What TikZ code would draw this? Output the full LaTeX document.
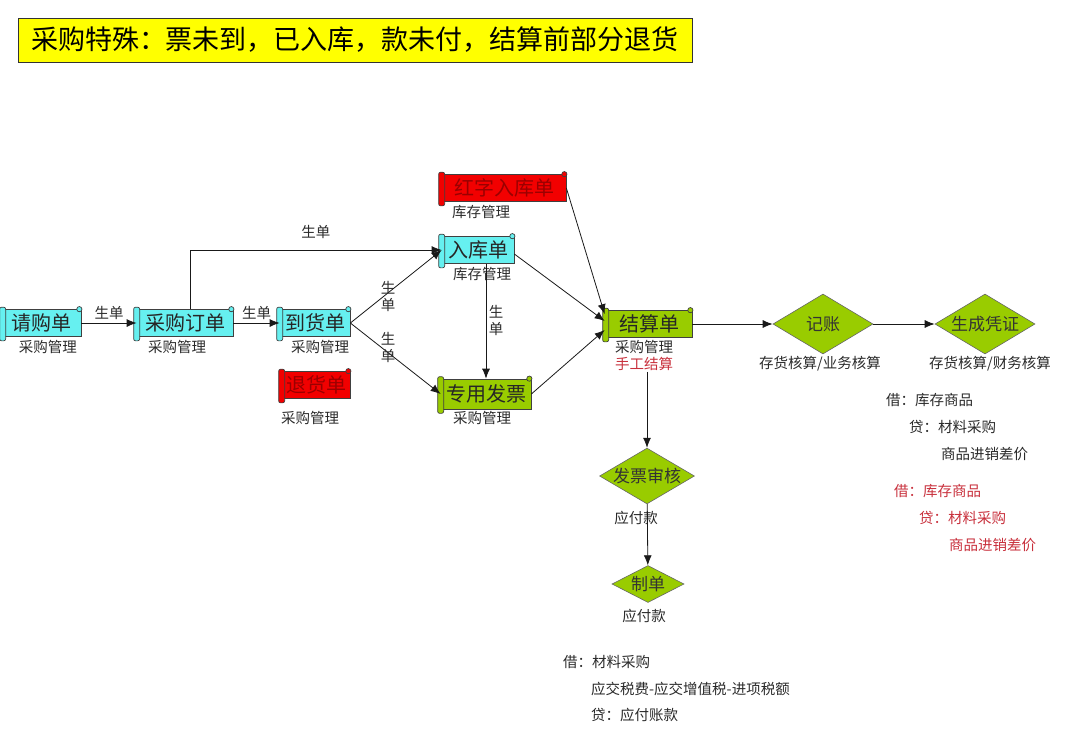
\documentclass[tikz,border=0pt]{standalone}
\usepackage{fontspec}
\setmainfont{Noto Sans CJK SC}
\usetikzlibrary{arrows.meta,shapes.geometric,calc}
\definecolor{tuerkis}{HTML}{66F0F0}
\definecolor{gruen}{HTML}{99CC00}
\definecolor{rot}{HTML}{F20000}
\definecolor{dunkelrot}{HTML}{9A0000}
\definecolor{buchrot}{HTML}{C8303C}
\definecolor{gelb}{HTML}{FFFF00}
\definecolor{grau}{HTML}{2A2A2A}
\tikzset{
  pfeil/.style={-{Latex[length=10pt,width=8pt]},black!90,line width=0.8pt},
  rolle/.style={draw=black!75,line width=0.7pt,minimum height=27pt,inner sep=0pt,text=black!85,font=\fontsize{20}{20}\selectfont},
  raute/.style={diamond,aspect=1.7,draw=black!60,fill=gruen,line width=0.6pt,inner sep=0pt,text=black!80,font=\fontsize{17}{17}\selectfont},
  klein/.style={text=grau,font=\fontsize{14.5}{17}\selectfont,inner sep=1pt},
  buchung/.style={klein,anchor=west},
  titel/.style={draw=black!80,fill=gelb,line width=0.8pt,minimum width=674pt,minimum height=44pt,font=\fontsize{27}{27}\selectfont},
}
\begin{document}
\begin{tikzpicture}[x=1pt,y=-1pt]
  \useasboundingbox (0,0) rectangle (1080,732);
  \node[titel] (titel) at (355,40) {采购特殊：票未到，已入库，款未付，结算前部分退货};
  % belege
  \node[rolle,fill=tuerkis,minimum width=78] (qgd) at (42,323) {请购单};
  \node[rolle,fill=tuerkis,minimum width=96] (cgdd) at (185,323) {采购订单};
  \node[rolle,fill=tuerkis,minimum width=70] (dhd) at (315,323) {到货单};
  \node[rolle,fill=rot,text=dunkelrot,minimum width=68] (thd) at (316,385) {退货单};
  \node[rolle,fill=rot,text=dunkelrot,minimum width=124] (hzrkd) at (504,188) {红字入库单};
  \node[rolle,fill=tuerkis,minimum width=72] (rkd) at (478,250) {入库单};
  \node[rolle,fill=gruen,minimum width=90,minimum height=30] (zyfp) at (486,394) {专用发票};
  \node[rolle,fill=gruen,minimum width=86] (jsd) at (649,324) {结算单};
  \foreach \n/\f in {qgd/tuerkis,cgdd/tuerkis,dhd/tuerkis,rkd/tuerkis,thd/rot,hzrkd/rot,zyfp/gruen,jsd/gruen}{
    \draw[fill=\f,draw=black!75,line width=0.7pt,rounded corners=2pt] ($(\n.north west)+(-3,-2)$) rectangle ($(\n.south west)+(3,4)$);
    \draw[fill=\f,draw=black!75,line width=0.7pt] ($(\n.north east)+(-2,0)$) circle (2.6pt);}
  % rauten
  \node[raute,minimum width=100,minimum height=60] (jz) at (823,324) {记账};
  \node[raute,minimum width=100,minimum height=60] (scpz) at (985,324) {生成凭证};
  \node[raute,minimum width=90,minimum height=54] (fpsh) at (647,476) {发票审核};
  \node[raute,minimum width=72,minimum height=37] (zd) at (648,584) {制单};
  % unterschriften
  \node[klein] (qgd-m) at (48,347) {采购管理};
  \node[klein] (cgdd-m) at (177,347) {采购管理};
  \node[klein] (dhd-m) at (320,347) {采购管理};
  \node[klein] (thd-m) at (310,418) {采购管理};
  \node[klein] (hzrkd-m) at (481,212) {库存管理};
  \node[klein] (rkd-m) at (482,274) {库存管理};
  \node[klein] (zyfp-m) at (482,418) {采购管理};
  \node[klein] (jsd-m) at (644,347) {采购管理};
  \node[klein,text=buchrot] (jsd-h) at (644,364) {手工结算};
  \node[klein] (jz-m) at (820,364) {存货核算/业务核算};
  \node[klein] (scpz-m) at (990,364) {存货核算/财务核算};
  \node[klein] (fpsh-m) at (636,518) {应付款};
  \node[klein] (zd-m) at (644,616) {应付款};
  % pfeile
  \draw[pfeil] (qgd) -- (cgdd) node[klein,midway,above=2pt] (l1) {生单};
  \draw[pfeil] (cgdd) -- (dhd) node[klein,midway,above=2pt] (l2) {生单};
  \draw[pfeil] ([xshift=5pt]cgdd.north) |- (rkd.west) node[klein,pos=0.75,above=10pt] (l3) {生单};
  \draw[pfeil] (dhd.east) -- (rkd.west);
  \node[klein,align=center] (l4) at (388,296) {生\\单};
  \draw[pfeil] (dhd.east) -- (zyfp.west);
  \node[klein,align=center] (l5) at (388,347) {生\\单};
  \draw[pfeil] (rkd.south -| zyfp.north) -- (zyfp.north);
  \node[klein,align=center] (l6) at (496,320) {生\\单};
  \draw[pfeil] (hzrkd.east) -- ($(jsd.north west)+(-1,4)$);
  \draw[pfeil] ($(rkd.east)+(0,4)$) -- ($(jsd.west)+(-1,-3)$);
  \draw[pfeil] (zyfp.east) -- ($(jsd.west)+(-1,6)$);
  \draw[pfeil] (jsd) -- (jz);
  \draw[pfeil] (jz) -- (scpz);
  \draw[pfeil] (jsd-h.south -| fpsh.north) -- (fpsh.north);
  \draw[pfeil] (fpsh) -- (zd);
  % buchungen
  \node[buchung] (b1) at (885,400) {借：库存商品};
  \node[buchung] (b2) at (908,427) {贷：材料采购};
  \node[buchung] (b3) at (940,454) {商品进销差价};
  \node[buchung,text=buchrot] (r1) at (893,491) {借：库存商品};
  \node[buchung,text=buchrot] (r2) at (918,518) {贷：材料采购};
  \node[buchung,text=buchrot] (r3) at (948,545) {商品进销差价};
  \node[buchung] (z1) at (562,662) {借：材料采购};
  \node[buchung] (z2) at (590,689) {应交税费-应交增值税-进项税额};
  \node[buchung] (z3) at (590,715) {贷：应付账款};
\end{tikzpicture}
\end{document}
